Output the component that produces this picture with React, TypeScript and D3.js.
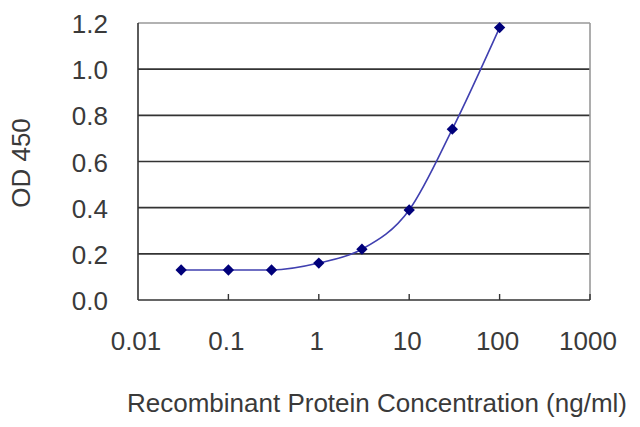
import React from 'react';
import * as d3 from 'd3';

const concentrations = [0.03, 0.1, 0.3, 1, 3, 10, 30, 100];
const odValues = [0.13, 0.13, 0.13, 0.16, 0.22, 0.39, 0.74, 1.18];
const xTicks = [0.01, 0.1, 1, 10, 100, 1000];
const yTicks = [0, 0.2, 0.4, 0.6, 0.8, 1.0, 1.2];

const W = 640;
const H = 427;
const M = { left: 138, right: 50, top: 23, bottom: 127 };

export default function App() {
  const x = d3.scaleLog().domain([0.01, 1000]).range([M.left, W - M.right]);
  const y = d3.scaleLinear().domain([0, 1.2]).range([H - M.bottom, M.top]);

  const pts = concentrations.map((c, i) => [c, odValues[i]] as [number, number]);
  const line = d3
    .line<[number, number]>()
    .x(d => x(d[0]))
    .y(d => y(d[1]))
    .curve(d3.curveMonotoneX);

  const diamond = d3.symbol().type(d3.symbolSquare).size(64)();
  const font = 'Liberation Sans, Arial, sans-serif';
  const x0 = M.left;
  const x1 = W - M.right;
  const yb = H - M.bottom;

  return (
    <svg width={W} height={H} style={{ position: 'absolute', left: 0, top: 0, background: '#fff' }}>
      {/* grid */}
      {yTicks.slice(1, -1).map(t => (
        <line key={t} x1={x0} x2={x1} y1={y(t)} y2={y(t)} stroke="#333" strokeWidth={1.6} />
      ))}
      {/* frame */}
      <line x1={x0} x2={x1} y1={y(1.2)} y2={y(1.2)} stroke="#999" strokeWidth={1.6} />
      <line x1={x1} x2={x1} y1={y(1.2)} y2={yb} stroke="#999" strokeWidth={1.6} />
      <line x1={x0} x2={x0} y1={y(1.2)} y2={yb} stroke="#333" strokeWidth={1.6} />
      <line x1={x0} x2={x1} y1={yb} y2={yb} stroke="#333" strokeWidth={1.6} />
      {xTicks.slice(1).map(t => (
        <line key={t} x1={x(t)} x2={x(t)} y1={yb} y2={yb - 6} stroke="#333" strokeWidth={1.4} />
      ))}
      {/* y tick labels */}
      {yTicks.map(t => (
        <text key={t} x={108} y={y(t) + 10} textAnchor="end" fontFamily={font} fontSize={26} fill="#3a3a3a">
          {t.toFixed(1)}
        </text>
      ))}
      {/* x tick labels */}
      {xTicks.map(t => (
        <text key={t} x={x(t) - 2} y={350} textAnchor="middle" fontFamily={font} fontSize={26} fill="#3a3a3a">
          {String(t)}
        </text>
      ))}
      {/* series */}
      <path d={line(pts) || ''} fill="none" stroke="#4040b0" strokeWidth={1.6} />
      {pts.map((p, i) => (
        <path
          key={i}
          d={diamond || ''}
          transform={`translate(${x(p[0])},${y(p[1])}) rotate(45)`}
          fill="#00007a"
        />
      ))}
      {/* axis titles */}
      <text x={377} y={412} textAnchor="middle" fontFamily={font} fontSize={26} fill="#3a3a3a">
        Recombinant Protein Concentration (ng/ml)
      </text>
      <text
        transform={`translate(30,163) rotate(-90)`}
        textAnchor="middle"
        fontFamily={font}
        fontSize={26}
        fill="#3a3a3a"
      >
        OD 450
      </text>
    </svg>
  );
}
